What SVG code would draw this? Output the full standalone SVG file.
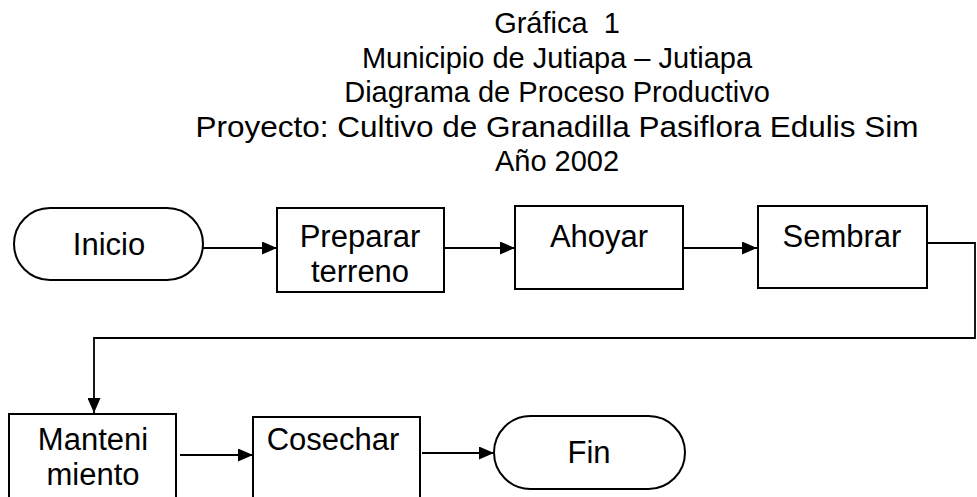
<svg xmlns="http://www.w3.org/2000/svg" width="977" height="497" viewBox="0 0 977 497">
<style>
.t{font-family:"Liberation Sans",Arial,sans-serif;fill:#000;text-anchor:middle}
.title{font-size:29px}
.n{font-size:31px}
.box{fill:#fff;stroke:#000;stroke-width:2}
.c{fill:none;stroke:#000;stroke-width:1.8}
</style>
<defs>
<marker id="ah" viewBox="0 0 15 13" refX="15" refY="6.5" markerWidth="15" markerHeight="13" markerUnits="userSpaceOnUse" orient="auto">
<path d="M0,0 L15,6.5 L0,13 Z" fill="#000"/>
</marker>
</defs>
<rect width="977" height="497" fill="#fff"/>
<g id="title">
<text class="t title" x="557" y="33" xml:space="preserve">Gráfica  1</text>
<text class="t title" x="557" y="67.5">Municipio de Jutiapa – Jutiapa</text>
<text class="t title" x="557" y="102">Diagrama de Proceso Productivo</text>
<text class="t title" x="557" y="137" textLength="723" lengthAdjust="spacingAndGlyphs">Proyecto: Cultivo de Granadilla Pasiflora Edulis Sim</text>
<text class="t title" x="557" y="171">Año 2002</text>
</g>
<g id="connectors">
<line class="c" x1="203" y1="248" x2="277" y2="248" marker-end="url(#ah)"/>
<line class="c" x1="444" y1="248" x2="515" y2="248" marker-end="url(#ah)"/>
<line class="c" x1="683" y1="248" x2="757" y2="248" marker-end="url(#ah)"/>
<polyline class="c" points="928,243 975,243 975,338 94,338 94,413" marker-end="url(#ah)"/>
<line class="c" x1="180" y1="455" x2="253" y2="455" marker-end="url(#ah)"/>
<line class="c" x1="422" y1="453" x2="494" y2="453" marker-end="url(#ah)"/>
</g>
<g id="inicio">
<rect class="box" x="14" y="208" width="189" height="72" rx="36" ry="36"/>
<text class="t n" x="109" y="255">Inicio</text>
</g>
<g id="preparar">
<rect class="box" x="277" y="208" width="167" height="84"/>
<text class="t n" x="360" y="247">Preparar</text>
<text class="t n" x="360" y="282">terreno</text>
</g>
<g id="ahoyar">
<rect class="box" x="515" y="206" width="168" height="83"/>
<text class="t n" x="599" y="247">Ahoyar</text>
</g>
<g id="sembrar">
<rect class="box" x="758" y="206" width="169" height="82"/>
<text class="t n" x="842" y="247">Sembrar</text>
</g>
<g id="mantenimiento">
<rect class="box" x="9" y="414" width="167" height="100"/>
<text class="t n" x="93" y="450">Manteni</text>
<text class="t n" x="93" y="485">miento</text>
</g>
<g id="cosechar">
<rect class="box" x="253" y="417" width="167" height="100"/>
<text class="t n" x="333" y="450">Cosechar</text>
</g>
<g id="fin">
<rect class="box" x="494" y="416" width="191" height="73" rx="36.5" ry="36.5"/>
<text class="t n" x="589" y="463">Fin</text>
</g>
</svg>
